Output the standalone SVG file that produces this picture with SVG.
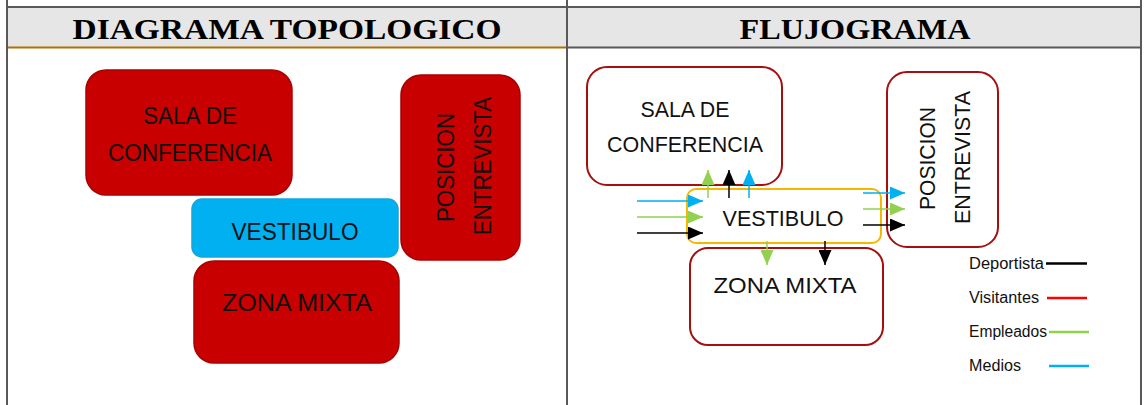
<svg xmlns="http://www.w3.org/2000/svg" width="1144" height="405" viewBox="0 0 1144 405">
<defs>
<style>
.hdr{font-family:"Liberation Serif","Times New Roman",serif;font-weight:bold;font-size:30px;fill:#000;text-anchor:middle}
.lbl{font-family:"Liberation Sans",Arial,sans-serif;fill:#111;text-anchor:middle}
.topo{font-size:24.5px}
.flow{font-size:22px}
.leg{font-family:"Liberation Sans",Arial,sans-serif;font-size:16px;fill:#111}
.red{fill:#c80000;stroke:#a80000;stroke-width:1.5}
.blue{fill:#00b0f0;stroke:#12a6dc;stroke-width:1.5}
.fbox{fill:#fff;stroke:#a50f0f;stroke-width:2}
.fves{fill:#fff;stroke:#f5b800;stroke-width:2}
.grid{stroke:#595959;stroke-width:2;fill:none}
.c{fill:none;stroke-width:1.5}
.k{stroke:#000}
.g{stroke:#92d050}
.b{stroke:#00b0f0}
</style>
<marker id="ak" markerUnits="userSpaceOnUse" markerWidth="15" markerHeight="13" refX="15" refY="6.5" orient="auto"><path d="M0,0 L15,6.5 L0,13 z" fill="#000"/></marker>
<marker id="ag" markerUnits="userSpaceOnUse" markerWidth="15" markerHeight="13" refX="15" refY="6.5" orient="auto"><path d="M0,0 L15,6.5 L0,13 z" fill="#92d050"/></marker>
<marker id="ab" markerUnits="userSpaceOnUse" markerWidth="15" markerHeight="13" refX="15" refY="6.5" orient="auto"><path d="M0,0 L15,6.5 L0,13 z" fill="#00b0f0"/></marker>
</defs>
<rect width="1144" height="405" fill="#fff"/>
<g id="table">
<rect x="7" y="8" width="1134" height="39" fill="#e6e6e6"/>
<line class="grid" x1="7" y1="7" x2="1141" y2="7"/>
<line x1="7" y1="47.5" x2="567" y2="47.5" stroke="#b07000" stroke-width="2"/>
<line class="grid" x1="567" y1="47.5" x2="1141" y2="47.5"/>
<line class="grid" x1="7" y1="0" x2="7" y2="405"/>
<line class="grid" x1="567" y1="0" x2="567" y2="405"/>
<line class="grid" x1="1141" y1="0" x2="1141" y2="405"/>
<text class="hdr" x="287" y="39" textLength="429" lengthAdjust="spacingAndGlyphs">DIAGRAMA TOPOLOGICO</text>
<text class="hdr" x="855" y="39" textLength="231" lengthAdjust="spacingAndGlyphs">FLUJOGRAMA</text>
</g>
<g id="topo-sala">
<rect class="red" x="86" y="70" width="206" height="125" rx="20"/>
<text class="lbl topo" x="190" y="124" textLength="94" lengthAdjust="spacingAndGlyphs">SALA DE</text>
<text class="lbl topo" x="190" y="161" textLength="164" lengthAdjust="spacingAndGlyphs">CONFERENCIA</text>
</g>
<g id="topo-vestibulo">
<rect class="blue" x="192" y="199" width="206" height="58" rx="10"/>
<text class="lbl topo" x="295" y="240" textLength="127" lengthAdjust="spacingAndGlyphs">VESTIBULO</text>
</g>
<g id="topo-posicion">
<rect class="red" x="401" y="75" width="119" height="185" rx="20"/>
<text class="lbl topo" transform="translate(454,167.5) rotate(-90)" textLength="109" lengthAdjust="spacingAndGlyphs">POSICION</text>
<text class="lbl topo" transform="translate(491,166) rotate(-90)" textLength="138" lengthAdjust="spacingAndGlyphs">ENTREVISTA</text>
</g>
<g id="topo-zona">
<rect class="red" x="194" y="261" width="205" height="102" rx="20"/>
<text class="lbl topo" x="297" y="311" textLength="150" lengthAdjust="spacingAndGlyphs">ZONA MIXTA</text>
</g>
<g id="flow-sala">
<rect class="fbox" x="587" y="67" width="195" height="118" rx="20"/>
<text class="lbl flow" x="685" y="117" textLength="89" lengthAdjust="spacingAndGlyphs">SALA DE</text>
<text class="lbl flow" x="685" y="152" textLength="156" lengthAdjust="spacingAndGlyphs">CONFERENCIA</text>
</g>
<g id="flow-vestibulo">
<rect class="fves" x="687" y="189" width="194" height="54" rx="9"/>
<text class="lbl flow" x="783" y="226" textLength="121" lengthAdjust="spacingAndGlyphs">VESTIBULO</text>
</g>
<g id="flow-posicion">
<rect class="fbox" x="887" y="72" width="111" height="175" rx="20"/>
<text class="lbl flow" transform="translate(935,158.5) rotate(-90)" textLength="103" lengthAdjust="spacingAndGlyphs">POSICION</text>
<text class="lbl flow" transform="translate(970,157.5) rotate(-90)" textLength="133" lengthAdjust="spacingAndGlyphs">ENTREVISTA</text>
</g>
<g id="flow-zona">
<rect class="fbox" x="690" y="248" width="193" height="97" rx="18"/>
<text class="lbl flow" x="785" y="293" textLength="143" lengthAdjust="spacingAndGlyphs">ZONA MIXTA</text>
</g>
<g id="connectors">
<line class="c g" x1="708" y1="198" x2="708" y2="170" marker-end="url(#ag)"/>
<line class="c k" x1="729" y1="198" x2="729" y2="170" marker-end="url(#ak)"/>
<line class="c b" x1="749" y1="198" x2="749" y2="170" marker-end="url(#ab)"/>
<line class="c b" x1="637" y1="201" x2="703" y2="201" marker-end="url(#ab)"/>
<line class="c g" x1="637" y1="217" x2="703" y2="217" marker-end="url(#ag)"/>
<line class="c k" x1="637" y1="233" x2="703" y2="233" marker-end="url(#ak)"/>
<line class="c b" x1="863" y1="193" x2="905" y2="193" marker-end="url(#ab)"/>
<line class="c g" x1="863" y1="209" x2="905" y2="209" marker-end="url(#ag)"/>
<line class="c k" x1="863" y1="225" x2="905" y2="225" marker-end="url(#ak)"/>
<line class="c g" x1="767" y1="241" x2="767" y2="265" marker-end="url(#ag)"/>
<line class="c k" x1="825" y1="241" x2="825" y2="265" marker-end="url(#ak)"/>
</g>
<g id="legend">
<text class="leg" x="969" y="268.5" textLength="75" lengthAdjust="spacingAndGlyphs">Deportista</text>
<line x1="1046" y1="263.5" x2="1087" y2="263.5" stroke="#000" stroke-width="2.5"/>
<text class="leg" x="969" y="302.5" textLength="70" lengthAdjust="spacingAndGlyphs">Visitantes</text>
<line x1="1047" y1="298" x2="1087" y2="298" stroke="#ff0000" stroke-width="2.5"/>
<text class="leg" x="969" y="336.5" textLength="78" lengthAdjust="spacingAndGlyphs">Empleados</text>
<line x1="1049" y1="332" x2="1089" y2="332" stroke="#92d050" stroke-width="2.5"/>
<text class="leg" x="969" y="371" textLength="52" lengthAdjust="spacingAndGlyphs">Medios</text>
<line x1="1049" y1="366" x2="1089" y2="366" stroke="#00b0f0" stroke-width="2.5"/>
</g>
</svg>
